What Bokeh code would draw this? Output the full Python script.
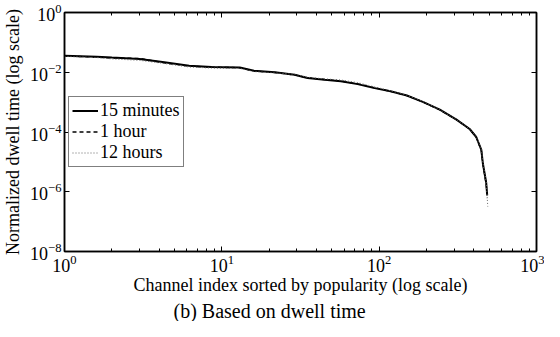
from bokeh.plotting import figure
from bokeh.models import FixedTicker, LogAxis, Legend, LegendItem, Title, Range1d
from bokeh.embed import file_html
from bokeh.resources import INLINE

# Channel index (sorted by popularity)
x_15m = [1, 1.6, 2, 3, 4.2, 6.2, 8.6, 13, 16, 21.7, 29, 35, 45, 57, 73, 92, 118, 150,
         191, 243, 310, 376, 414, 446, 456, 479, 486]
y_15m = [0.036, 0.033, 0.031, 0.028, 0.022, 0.0165, 0.015, 0.0145, 0.0112, 0.010, 0.0083,
         0.0064, 0.0056, 0.005, 0.004, 0.003, 0.0023, 0.00166, 0.001, 5.6e-4, 2.6e-4,
         1.26e-4, 6.8e-5, 2.5e-5, 9e-6, 2e-6, 7.6e-7]

x_1h = [1, 1.6, 2, 3, 4.2, 6.2, 8.6, 13, 16, 21.7, 29, 35, 45, 57, 73, 92, 118, 150,
        191, 243, 310, 376, 414, 446, 456, 479, 487]
y_1h = [0.035, 0.032, 0.030, 0.029, 0.021, 0.016, 0.0148, 0.0142, 0.011, 0.0098, 0.0082,
        0.0065, 0.0057, 0.0051, 0.0041, 0.0031, 0.0023, 0.00165, 0.001, 5.5e-4, 2.6e-4,
        1.25e-4, 6.7e-5, 2.4e-5, 8.5e-6, 1.8e-6, 6e-7]

x_12h = [1, 1.6, 2, 3, 4.2, 6.2, 8.6, 13, 16, 21.7, 29, 35, 45, 57, 73, 92, 118, 150,
         191, 243, 310, 376, 414, 446, 456, 479, 490]
y_12h = [0.034, 0.031, 0.028, 0.025, 0.020, 0.015, 0.0138, 0.0135, 0.0105, 0.0095, 0.0086,
         0.0068, 0.006, 0.0055, 0.0045, 0.0033, 0.0024, 0.0017, 0.00102, 5.6e-4, 2.6e-4,
         1.27e-4, 6.9e-5, 2.6e-5, 9.5e-6, 2.2e-6, 3.2e-7]

FONT = "Liberation Serif"

p = figure(width=544, height=321, x_axis_type="log", y_axis_type="log",
           x_range=Range1d(1, 1000), y_range=Range1d(1e-8, 1),
           output_backend="svg", toolbar_location=None,
           min_border_left=60, min_border_right=8, min_border_top=12, min_border_bottom=0)

p.xgrid.visible = False
p.ygrid.visible = False
p.outline_line_color = "black"
p.outline_line_width = 1.5

l1 = p.line(x_15m, y_15m, line_color="black", line_width=2)
l2 = p.line(x_1h, y_1h, line_color="black", line_width=1.4, line_dash="4 3")
l3 = p.line(x_12h, y_12h, line_color="#666666", line_width=1.0, line_dash="1 2")

def style_axis(ax, show_labels=True):
    ax.axis_line_width = 1.5
    ax.axis_line_color = "black"
    ax.major_tick_in = 5
    ax.major_tick_out = 0
    ax.minor_tick_in = 3
    ax.minor_tick_out = 0
    ax.major_tick_line_width = 1
    ax.minor_tick_line_width = 1
    ax.major_label_text_font = FONT
    ax.major_label_text_font_size = "18px"
    ax.major_label_text_color = "black"
    ax.axis_label_text_font = FONT
    ax.axis_label_text_font_size = "18px"
    ax.axis_label_text_font_style = "normal"
    ax.axis_label_text_color = "black"
    if not show_labels:
        ax.major_label_text_font_size = "1px"
        ax.major_label_text_alpha = 0
        ax.major_label_standoff = 0

xt = FixedTicker(ticks=[1, 10, 100, 1000],
                 minor_ticks=[m * 10 ** e for e in range(0, 3) for m in range(2, 10)])
yt = FixedTicker(ticks=[1e-8, 1e-6, 1e-4, 1e-2, 1], minor_ticks=[])

p.xaxis.ticker = xt
p.yaxis.ticker = yt
style_axis(p.xaxis[0])
style_axis(p.yaxis[0])
p.xaxis.axis_label = "Channel index sorted by popularity (log scale)"
p.yaxis.axis_label = "Normalized dwell time (log scale)"
p.xaxis.major_label_standoff = 3
p.xaxis.axis_label_standoff = 0
p.yaxis.major_label_standoff = 3
p.yaxis.axis_label_standoff = 4

top = LogAxis(ticker=xt)
style_axis(top, show_labels=False)
p.add_layout(top, "above")
right = LogAxis(ticker=yt)
style_axis(right, show_labels=False)
p.add_layout(right, "right")

legend = Legend(items=[LegendItem(label="15 minutes", renderers=[l1]),
                       LegendItem(label="1 hour", renderers=[l2]),
                       LegendItem(label="12 hours", renderers=[l3])],
                location=(4, 84))
legend.label_text_font = FONT
legend.label_text_font_size = "18px"
legend.label_text_color = "black"
legend.border_line_color = "black"
legend.border_line_width = 1
legend.glyph_width = 26
legend.glyph_height = 21
legend.label_height = 21
legend.spacing = 0
legend.padding = 3
legend.margin = 0
legend.label_standoff = 2
p.add_layout(legend)

cap = Title(text="(b) Based on dwell time", align="left", offset=109, standoff=0,
            text_font=FONT, text_font_size="20px", text_font_style="normal",
            text_color="black")
p.add_layout(cap, "below")

open("out.html", "w").write(file_html(p, INLINE))
